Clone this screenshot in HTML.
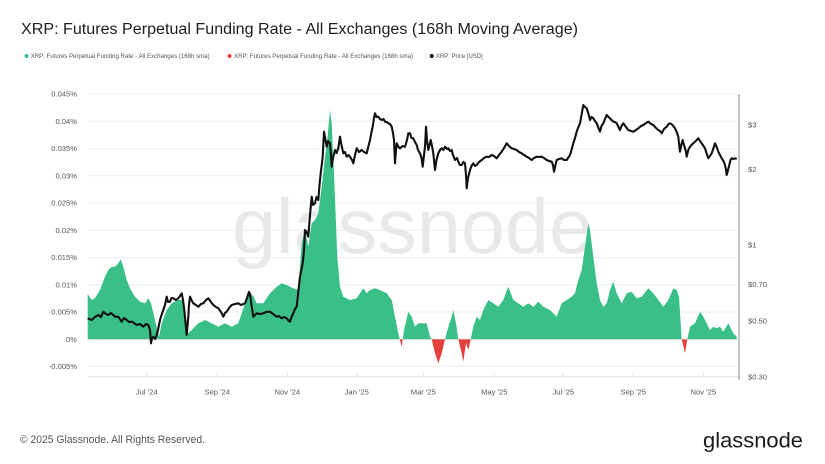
<!DOCTYPE html>
<html><head><meta charset="utf-8"><style>
html,body{margin:0;padding:0;background:#fff;}
svg{display:block;font-family:"Liberation Sans",Arial,sans-serif;}
</style></head><body>
<svg width="825" height="464" viewBox="0 0 825 464" xmlns="http://www.w3.org/2000/svg">
<rect width="825" height="464" fill="#fff"/>
<text x="21" y="34" font-size="15.5" fill="#1e1e1e" textLength="557" lengthAdjust="spacingAndGlyphs">XRP: Futures Perpetual Funding Rate - All Exchanges (168h Moving Average)</text>
<circle cx="26.5" cy="56" r="2" fill="#3bbf88"/>
<text x="30.7" y="58.2" font-size="6.2" fill="#555" textLength="179" lengthAdjust="spacingAndGlyphs">XRP: Futures Perpetual Funding Rate - All Exchanges (168h sma)</text>
<circle cx="229.5" cy="56" r="2" fill="#e5403d"/>
<text x="234" y="58.2" font-size="6.2" fill="#555" textLength="179" lengthAdjust="spacingAndGlyphs">XRP: Futures Perpetual Funding Rate - All Exchanges (168h sma)</text>
<circle cx="431.7" cy="56" r="2" fill="#111"/>
<text x="436" y="58.2" font-size="6.2" fill="#555" textLength="46.7" lengthAdjust="spacingAndGlyphs">XRP: Price [USD]</text>

<g stroke="#eeeeee" stroke-width="1">
<line x1="88" x2="737" y1="94" y2="94"/>
<line x1="88" x2="737" y1="121.3" y2="121.3"/>
<line x1="88" x2="737" y1="148.5" y2="148.5"/>
<line x1="88" x2="737" y1="175.8" y2="175.8"/>
<line x1="88" x2="737" y1="203" y2="203"/>
<line x1="88" x2="737" y1="230.3" y2="230.3"/>
<line x1="88" x2="737" y1="257.5" y2="257.5"/>
<line x1="88" x2="737" y1="284.8" y2="284.8"/>
<line x1="88" x2="737" y1="312" y2="312"/>
<line x1="88" x2="737" y1="339.3" y2="339.3"/>
<line x1="88" x2="737" y1="366.5" y2="366.5"/>
</g>
<line x1="88" x2="739" y1="377" y2="377" stroke="#e2e2e2" stroke-width="1"/>
<g stroke="#e2e2e2" stroke-width="1">
<line x1="146.7" x2="146.7" y1="373" y2="377"/>
<line x1="217.3" x2="217.3" y1="373" y2="377"/>
<line x1="287.3" x2="287.3" y1="373" y2="377"/>
<line x1="356.7" x2="356.7" y1="373" y2="377"/>
<line x1="423.3" x2="423.3" y1="373" y2="377"/>
<line x1="494.3" x2="494.3" y1="373" y2="377"/>
<line x1="563.3" x2="563.3" y1="373" y2="377"/>
<line x1="633.3" x2="633.3" y1="373" y2="377"/>
<line x1="703.3" x2="703.3" y1="373" y2="377"/>
</g>

<text x="232" y="253" font-size="78" fill="#e9e9e9" textLength="361" lengthAdjust="spacingAndGlyphs">glassnode</text>

<defs>
<clipPath id="cg"><rect x="80" y="80" width="670" height="259.3"/></clipPath>
<clipPath id="cr"><rect x="80" y="339.3" width="670" height="40"/></clipPath>
<path id="area" d="M87.7,339.3 L87.7,294 91.7,300 95,298 100,290 105,276.7 108.3,270 111.7,266.7 115,266.7 118.3,263.3 120.7,259.3 123.3,266.7 126.7,280 130,288.3 135,296.7 140,301.7 145,303.3 148.3,298.3 151,303.3 155,320 159,336.7 161.7,323.3 166.7,310 171.7,303.3 178.3,300 183.3,300 185,316.7 188.3,333.3 191.7,330 198.3,323.3 205,320 211.7,323.3 218.3,326.7 225,323.3 231.7,326.7 238.3,323.3 241.7,313.3 245,303.3 250,293 253.3,296 256.7,303.3 263.3,303.3 270,293.3 276.7,286.7 281.7,283.3 286.7,285 293.3,288.3 298.3,290 301.7,243.3 305,230 308.3,246.7 311.7,223.3 315,220 318.3,213.3 321.7,186.7 325,156.7 327.3,140 330,110 331.7,123.3 334,173.3 337.3,256.7 340,286.7 343.3,296.7 350,300 356.7,298.3 363.3,288.3 366.7,293.3 370,290 375,288.3 380,290 386.7,293.3 391.7,300 395,316.7 398.3,333.3 401.7,346.7 404,330 408.3,311.7 411.7,316.7 415,326.7 418.3,323.3 421.7,323.3 426.7,323.3 430,336.7 431.7,339.3 435,353.3 438.3,363.3 441.7,353.3 445,339.3 448.3,326.7 451.7,316.7 453.3,310 456,323.3 458.3,339.3 461.7,353.3 463.3,361.7 466,343.3 468.3,350 470.7,339.3 473.3,326.7 476.7,316.7 480,320 483.3,310 488.3,300 493.3,303.3 498.3,306.7 503.3,300 508.3,286.7 513.3,300 518.3,303.3 523.3,306.7 528.3,303.3 533.3,306.7 538.3,301.7 543.3,306.7 550,310 556.7,316.7 561.7,303.3 566.7,300 571.7,296.7 575,293.3 578.3,280 581.7,270 585,246.7 588.3,223.3 590,230 593.3,256.7 596.7,283.3 600,300 603.3,306.7 606.7,303.3 610,290 613.3,281.7 616.7,293.3 621.7,303.3 626.7,293.3 631.7,291.7 636.7,298.3 641.7,296.7 648.3,288.3 653.3,293.3 658.3,300 663.3,306.7 668.3,300 673.3,288.3 676.7,290 679,296.7 681.7,339.3 685,353.3 687.3,339.3 690,326.7 695,323.3 700,311.7 703.3,316.7 706.7,323.3 710,330 713.3,326.7 716.7,328.3 720,326.7 723.3,331.7 728.3,323.3 733.3,333.3 736.7,336.7 736.7,339.3 Z"/>
</defs>
<use href="#area" fill="#3bbf88" clip-path="url(#cg)"/>
<use href="#area" fill="#e5403d" clip-path="url(#cr)"/>

<polyline fill="none" stroke="#111" stroke-width="2.1" stroke-linejoin="round" points="87.7,318.3 91.7,320 95,317 98.3,315 101,317 103.3,311.7 106,314 108.3,315 111,313 115,316.7 118.3,316.7 121.7,321.7 124,318 126.7,320 129,322 131.7,321.7 134,323 136.7,325 140,324 143.3,326.7 146,324 148.3,325 150,330 151,343.3 152,338 153.3,336.7 155,339 156.7,335 158,330 160,320 161.5,315 163.3,310 165,305 166.7,296.7 168,302 170,301.7 171.5,298 173.3,298.3 176,300 178.3,298.3 180,296 181.7,293.3 183,300 184.3,310 186.7,335 188.3,316.7 189,305 190,296.7 192,301 193.3,303.3 196,305 198.3,306.7 201,304 203.3,303.3 206,300 208.3,298.3 211,302 213.3,305 216,307 218.3,308.3 221,312 223.3,316.7 225,313 226.7,311.7 229,308 231.7,305 235,304 238.3,303.3 241,305 245,303.3 247,298 249,292 250,294 251.5,305 253.3,316.7 256.7,313.3 260,314 263.3,313.3 266,312 270,311.7 273,314 276.7,316.7 279,316 281.7,318.3 284,317 286.7,318.3 288,320 290,321.7 291.5,317 293.3,313.3 295,309 296.7,306.7 298.5,290 300,276.7 302.7,263.3 304,250 305,230 306.5,232 308.3,236.7 310,215 311.7,196.7 313,205 315,203.3 316.5,197 318.3,200 319.5,185 320.7,173.3 322.7,156.7 324,131.7 325.5,140 326.7,146.7 328,141 330,143.3 331,155 331.7,166.7 333,158 335,150 336.5,153 338.3,148.3 340,136.7 341.5,145 343.3,153.3 345,152 346.7,156.7 348.5,155 350,156.7 352,160 353.3,163.3 355,155 356.7,148.3 359,152 361.7,150 364,152 366.7,153.3 368.5,146 370,140 371.5,132 372.7,126.7 374,118 375,113.3 376.5,117 378.3,116.7 380,119 381.7,120 383.5,119 385,121.7 386.7,122 388.3,123.3 390,124 391.7,126.7 393,133 394,140 395,163.3 396,150 396.7,143.3 398.5,147 400,148.3 402.5,146 405,146.7 407,140 408.3,133.3 410,133.3 411.5,138 413.3,138.3 415,142 416.7,145 418,150 420,153.3 421.5,158 422.7,166.7 424,155 425,146.7 426,126.7 427,140 428.3,150 430.7,140 432,146 433.3,153.3 435,170 436.5,160 438.3,153.3 440,150 441.7,148.3 443.5,150 445,146.7 447,149 448.3,148.3 450,151 451.7,150 453,155 455,160 457,158 458.3,161.7 460,165 461.7,165 463.5,162 465,163.3 466,175 466.7,188.3 468,178 470,170 471.5,166 473.3,163.3 475,166 476.7,165 479,162 481.7,160 484,158 486.7,156.7 489,157 491.7,155 494,156 496.7,158.3 499,155 501.7,151.7 504,148 506.7,143.3 509,146 511.7,148.3 514,149 516.7,150 519,152 521.7,153.3 524,155 526.7,156.7 529,158 531.7,160 534,158 536.7,156.7 539,157 541.7,156.7 544,158 546.7,160 549,161 551.7,161.7 553,165 554,171.7 555.5,165 556.7,160 559,159 561.7,158.3 564,160 566.7,160 568,158 570,155 571.5,150 573.3,143.3 575,138 576.7,131.7 578,128 580,123.3 581.5,115 583.3,105 585,107 586.7,108.3 588.5,114 590,120 591.5,117 593.3,118.3 595,121 596.7,123.3 598.5,128 600,131.7 601.5,126 603.3,123.3 605,119 606.7,115 608.5,117 610,118.3 611.5,120 613.3,121.7 615,122 616.7,123.3 618.5,127 620,130 621.5,126 623.3,123.3 626,127 628.3,130 631,131 633.3,131.7 636,130 638.3,128.3 641,126 643.3,125 646,123 648.3,121.7 651,124 653.3,125 656,128 658.3,130 660,131 661.7,133.3 664,129 666.7,126.7 668.5,124 670,123.3 672.5,125 675,128.3 676.7,132 678.3,136.7 679.2,145 680,151.7 681.3,145 682.7,140 684,145 685,148.3 686,152 686.7,156.7 688.3,150 690,146.7 692.5,144 695,141.7 696.7,140 698.3,138.3 700,141 701.7,143.3 703.5,146 705,148.3 706.5,153 708.3,158.3 710,156 711.7,153.3 713.5,148 715,143.3 716.7,147 718.3,151.7 720,155 721.7,158.3 723.5,161 725,165 726,170 726.7,175 728,170 729.3,165 730.5,160 731.7,158.3 733.3,159 735,158.3 736.7,159"/>

<line x1="739" x2="739" y1="94" y2="380" stroke="#8a8a8a" stroke-width="1"/>

<g font-size="7.6" fill="#555" text-anchor="end">
<text x="77" y="96.7">0.045%</text>
<text x="77" y="124">0.04%</text>
<text x="77" y="151.2">0.035%</text>
<text x="77" y="178.5">0.03%</text>
<text x="77" y="205.7">0.025%</text>
<text x="77" y="233">0.02%</text>
<text x="77" y="260.2">0.015%</text>
<text x="77" y="287.5">0.01%</text>
<text x="77" y="314.7">0.005%</text>
<text x="77" y="342">0%</text>
<text x="77" y="369.2">-0.005%</text>
</g>
<g font-size="7.6" fill="#555">
<text x="748" y="127.7">$3</text>
<text x="748" y="172">$2</text>
<text x="748" y="247.7">$1</text>
<text x="748" y="287">$0.70</text>
<text x="748" y="323.7">$0.50</text>
<text x="748" y="379.4">$0.30</text>
</g>
<g font-size="7.6" fill="#555" text-anchor="middle">
<text x="146.7" y="394.4">Jul '24</text>
<text x="217.3" y="394.4">Sep '24</text>
<text x="287.3" y="394.4">Nov '24</text>
<text x="356.7" y="394.4">Jan '25</text>
<text x="423.3" y="394.4">Mar '25</text>
<text x="494.3" y="394.4">May '25</text>
<text x="563.3" y="394.4">Jul '25</text>
<text x="633.3" y="394.4">Sep '25</text>
<text x="703.3" y="394.4">Nov '25</text>
</g>

<text x="20" y="443" font-size="11" fill="#555" textLength="185" lengthAdjust="spacingAndGlyphs">© 2025 Glassnode. All Rights Reserved.</text>
<text x="703" y="447.3" font-size="21" fill="#1a1a1a" textLength="100" lengthAdjust="spacingAndGlyphs">glassnode</text>
</svg>
</body></html>
